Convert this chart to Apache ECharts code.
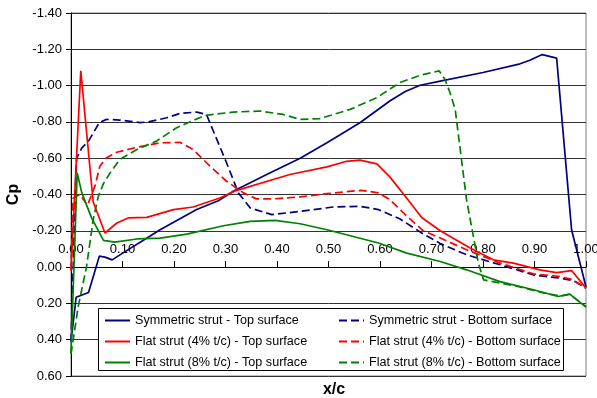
<!DOCTYPE html>
<html>
<head>
<meta charset="utf-8">
<script src="https://cdn.jsdelivr.net/npm/echarts@6/dist/echarts.min.js"></script>
<style>html,body{margin:0;padding:0;background:#fff}#c{width:597px;height:398px}</style>
</head>
<body>
<div id="c"></div>
<script>
var seriesNames = [
  'Symmetric strut - Top surface',
  'Symmetric strut - Bottom surface',
  'Flat strut (4% t/c) - Top surface',
  'Flat strut (4% t/c) - Bottom surface',
  'Flat strut (8% t/c) - Top surface',
  'Flat strut (8% t/c) - Bottom surface'
];
var xTicks = [0, 0.1, 0.2, 0.3, 0.4, 0.5, 0.6, 0.7, 0.8, 0.9, 1.0];
var yTicks = [-1.4, -1.2, -1.0, -0.8, -0.6, -0.4, -0.2, 0, 0.2, 0.4, 0.6];

var symTop = [[0,0.41],[0.010,0.166],[0.034,0.14],[0.055,-0.06],[0.066,-0.055],[0.080,-0.04],[0.098,-0.073],[0.153,-0.17],[0.173,-0.206],[0.244,-0.317],[0.286,-0.366],[0.315,-0.418],[0.38,-0.51],[0.445,-0.60],[0.497,-0.685],[0.561,-0.795],[0.619,-0.915],[0.649,-0.967],[0.678,-1.002],[0.717,-1.025],[0.80,-1.072],[0.872,-1.12],[0.891,-1.14],[0.915,-1.171],[0.943,-1.151],[0.972,-0.206],[1.0,0.11]];
var symBot = [[0,0.41],[0.0097,-0.537],[0.011,-0.60],[0.021,-0.657],[0.034,-0.694],[0.055,-0.796],[0.069,-0.814],[0.095,-0.81],[0.134,-0.796],[0.15,-0.80],[0.186,-0.823],[0.212,-0.847],[0.244,-0.854],[0.263,-0.841],[0.302,-0.575],[0.325,-0.409],[0.348,-0.326],[0.39,-0.289],[0.445,-0.307],[0.509,-0.331],[0.561,-0.335],[0.597,-0.317],[0.639,-0.265],[0.681,-0.188],[0.717,-0.13],[0.768,-0.068],[0.833,-0.013],[0.898,0.043],[0.95,0.061],[0.975,0.074],[1.0,0.116]];
var flat4Top = [[0,0.015],[0.019,-1.081],[0.043,-0.36],[0.066,-0.188],[0.089,-0.243],[0.111,-0.271],[0.147,-0.274],[0.199,-0.317],[0.237,-0.331],[0.289,-0.381],[0.322,-0.423],[0.425,-0.51],[0.497,-0.552],[0.535,-0.583],[0.561,-0.589],[0.594,-0.569],[0.619,-0.497],[0.649,-0.39],[0.681,-0.273],[0.717,-0.2],[0.775,-0.105],[0.82,-0.04],[0.859,-0.022],[0.91,0.015],[0.943,0.03],[0.972,0.019],[1.0,0.116]];
var flat4Bot = [[0,0.02],[0.004,-0.38],[0.017,-0.40],[0.032,-0.34],[0.047,-0.45],[0.056,-0.556],[0.069,-0.602],[0.089,-0.633],[0.128,-0.66],[0.173,-0.685],[0.212,-0.687],[0.237,-0.648],[0.27,-0.556],[0.302,-0.473],[0.335,-0.409],[0.36,-0.376],[0.393,-0.376],[0.445,-0.387],[0.497,-0.405],[0.564,-0.423],[0.597,-0.409],[0.619,-0.372],[0.649,-0.289],[0.684,-0.2],[0.717,-0.16],[0.768,-0.096],[0.833,-0.022],[0.898,0.037],[0.95,0.052],[0.975,0.07],[1.0,0.116]];
var flat8Top = [[0,0.475],[0.012,-0.52],[0.021,-0.409],[0.04,-0.271],[0.063,-0.147],[0.085,-0.138],[0.128,-0.155],[0.173,-0.16],[0.225,-0.182],[0.296,-0.228],[0.348,-0.252],[0.396,-0.257],[0.445,-0.239],[0.497,-0.206],[0.535,-0.178],[0.597,-0.133],[0.652,-0.077],[0.717,-0.031],[0.768,0.015],[0.833,0.08],[0.898,0.125],[0.946,0.162],[0.968,0.148],[1.0,0.221]];
var flat8Bot = [[0,0.48],[0.014,0.218],[0.03,0],[0.043,-0.26],[0.053,-0.39],[0.063,-0.46],[0.076,-0.519],[0.095,-0.593],[0.128,-0.648],[0.166,-0.694],[0.205,-0.768],[0.26,-0.836],[0.315,-0.854],[0.367,-0.86],[0.412,-0.841],[0.445,-0.814],[0.483,-0.818],[0.542,-0.869],[0.594,-0.934],[0.639,-1.017],[0.678,-1.057],[0.715,-1.081],[0.726,-1.035],[0.736,-0.961],[0.746,-0.869],[0.768,-0.372],[0.791,-0.022],[0.801,0.07],[0.865,0.105],[0.917,0.142],[0.95,0.16],[0.968,0.15],[1.0,0.218]];

var seriesData = [symTop, symBot, flat4Top, flat4Bot, flat8Top, flat8Bot];
var colors = ['#000080', '#000080', '#FF0000', '#FF0000', '#008000', '#008000'];
var dashed = [false, true, false, true, false, true];

var FONT = 'Liberation Sans, Arial, sans-serif';
var W = 597, H = 398;
var G = {left: 71, top: 13, right: 11, bottom: 22};
var yMin = yTicks[0], yMax = yTicks[yTicks.length - 1];
var plotH = H - G.top - G.bottom;
// place the x axis line where y = 0 (axis drawn at top, shifted down into the plot)
var xAxisOffset = -((0 - yMin) / (yMax - yMin)) * plotH;

var chart = echarts.init(document.getElementById('c'), null, {renderer: 'canvas'});

var series = seriesData.map(function (d, i) {
  return {
    name: seriesNames[i],
    type: 'line',
    data: d,
    symbol: 'none',
    smooth: false,
    animation: false,
    lineStyle: {color: colors[i], width: 1.7, type: dashed[i] ? [8, 4] : 'solid'},
    itemStyle: {color: colors[i]},
    z: 2 + i * 0.01
  };
});

var legendCommon = {
  orient: 'vertical', top: 314, padding: 0, itemWidth: 25, itemHeight: 14, itemGap: 8,
  textStyle: {color: '#000', fontSize: 12.6, fontFamily: FONT},
  itemStyle: {opacity: 0},
  selectedMode: false
};

chart.setOption({
  animation: false,
  grid: {left: G.left, top: G.top, right: G.right, bottom: G.bottom, show: true,
    borderColor: '#808080', borderWidth: 1, containLabel: false, outerBoundsMode: 'none'},
  xAxis: {
    type: 'value', min: xTicks[0], max: xTicks[xTicks.length - 1], interval: 0.1,
    position: 'top', offset: xAxisOffset,
    axisLine: {onZero: false, lineStyle: {color: '#000', width: 1}},
    axisTick: {show: true, length: 6, lineStyle: {color: '#000'}},
    axisLabel: {margin: 11, color: '#000', fontSize: 13, fontFamily: FONT,
      formatter: function (v) { return v.toFixed(2); }},
    splitLine: {show: false}
  },
  yAxis: {
    type: 'value', inverse: true, min: yMin, max: yMax, interval: 0.2,
    name: 'Cp', nameLocation: 'middle', nameGap: 46,
    nameTextStyle: {fontSize: 16, fontWeight: 'bold', color: '#000', fontFamily: FONT},
    axisLine: {show: true, onZero: false, lineStyle: {color: '#000', width: 1}},
    axisTick: {show: true, length: 5, lineStyle: {color: '#000'}},
    axisLabel: {margin: 9, color: '#000', fontSize: 13, fontFamily: FONT,
      formatter: function (v) { return v.toFixed(2); }},
    splitLine: {show: true, lineStyle: {color: '#333', width: 1}}
  },
  legend: [
    Object.assign({left: 104, data: [seriesNames[0], seriesNames[2], seriesNames[4]]}, legendCommon),
    Object.assign({left: 338, data: [seriesNames[1], seriesNames[3], seriesNames[5]]}, legendCommon)
  ],
  graphic: [
    {type: 'rect', z: 3, shape: {x: 98.5, y: 308.5, width: 465, height: 62},
      style: {fill: '#fff', stroke: '#000', lineWidth: 1}},
    {type: 'text', z: 5, x: 334, y: 390,
      style: {text: 'x/c', fill: '#000', font: 'bold 16px ' + FONT, textAlign: 'center', textVerticalAlign: 'middle'}}
  ],
  series: series
});
</script>
</body>
</html>
